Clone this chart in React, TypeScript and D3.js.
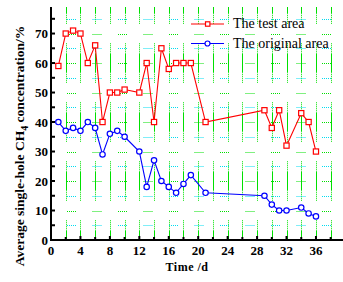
import React, { useRef, useEffect } from 'react';
import * as d3 from 'd3';

// Time (d) and average single-hole CH4 concentration (%)
const testDays = [1, 2, 3, 4, 5, 6, 7, 8, 9, 10, 12, 13, 14, 15, 16, 17, 18, 19, 21, 29, 30, 31, 32, 34, 35, 36];
const testValues = [59, 70, 71, 70, 60, 66, 40, 50, 50, 51, 50, 60, 40, 65, 58, 60, 60, 60, 40, 44, 38, 44, 32, 43, 40, 30];

const originalDays = [1, 2, 3, 4, 5, 6, 7, 8, 9, 10, 12, 13, 14, 15, 16, 17, 18, 19, 21, 29, 30, 31, 32, 34, 35, 36];
const originalValues = [40, 37, 38, 37, 40, 38, 29, 36, 37, 35, 30, 18, 27, 20, 18, 16, 19, 22, 16, 15, 12, 10, 10, 11, 9, 8];

const xMajorTicks = [0, 4, 8, 12, 16, 20, 24, 28, 32, 36, 40];
const xMinorTicks = [2, 6, 10, 14, 18, 22, 26, 30, 34, 38];
const yMajorTicks = [0, 10, 20, 30, 40, 50, 60, 70];
const yMinorTicks = [5, 15, 25, 35, 45, 55, 65, 75];

const seriesNames = ['The test area', 'The original area'];

export default function App() {
  const svgRef = useRef<SVGSVGElement>(null);

  useEffect(() => {
    if (!svgRef.current) return;
    const svg = d3.select(svgRef.current);
    svg.selectAll('*').remove();

    const width = 343;
    const height = 282;
    const left = 51;
    const bottom = 240;

    const x = d3.scaleLinear().domain([0, 40]).range([left, left + 294.4]);
    const y = d3.scaleLinear().domain([0, 79]).range([bottom, 7]);

    svg.attr('width', width).attr('height', height);

    const serif = '"Liberation Serif", "Times New Roman", serif';

    // Grid: dotted fragments like the original rendering
    const grid = svg.append('g');
    const yStep = y(0) - y(10);
    const vDash = [1, 1, 1, 1, 1, 1, 1, 1, 1, 1, yStep - 10];
    const vStart = yStep / 2 - 5;
    grid.selectAll('.vgrid')
      .data(xMinorTicks.concat(xMajorTicks.filter(d => d > 0)))
      .join('line')
      .attr('x1', d => Math.round(x(d)) + 0.5)
      .attr('x2', d => Math.round(x(d)) + 0.5)
      .attr('y1', y(0))
      .attr('y2', y(79))
      .attr('stroke', '#00e000')
      .attr('stroke-width', 1)
      .attr('stroke-dasharray', vDash.join(' '))
      .attr('stroke-dashoffset', 10 + (yStep - 10 - vStart));

    const hDash = [1, 1, 1, 1, 1, 1, 1, 1, 1, 16.5];
    const hOffset = 9 + (16.5 - 16);
    grid.selectAll('.hgrid-major')
      .data(yMajorTicks.filter(d => d > 0))
      .join('line')
      .attr('x1', x(0))
      .attr('x2', width)
      .attr('y1', d => Math.round(y(d)) + 0.5)
      .attr('y2', d => Math.round(y(d)) + 0.5)
      .attr('stroke', '#00e000')
      .attr('stroke-dasharray', hDash.join(' '))
      .attr('stroke-dashoffset', hOffset);

    grid.selectAll('.hgrid-minor')
      .data(yMinorTicks)
      .join('line')
      .attr('x1', x(0))
      .attr('x2', width)
      .attr('y1', d => Math.round(y(d)) + 0.5)
      .attr('y2', d => Math.round(y(d)) + 0.5)
      .attr('stroke', '#00dcf0')
      .attr('stroke-dasharray', hDash.join(' '))
      .attr('stroke-dashoffset', hOffset);

    // Axes
    const axes = svg.append('g');
    axes.append('line')
      .attr('x1', x(0)).attr('x2', x(0))
      .attr('y1', y(0) + 1).attr('y2', y(79))
      .attr('stroke', '#000').attr('stroke-width', 2);
    axes.append('line')
      .attr('x1', x(0) - 1).attr('x2', width)
      .attr('y1', y(0)).attr('y2', y(0))
      .attr('stroke', '#000').attr('stroke-width', 2);

    axes.selectAll('.ytick')
      .data(yMajorTicks.concat(yMinorTicks))
      .join('line')
      .attr('x1', x(0))
      .attr('x2', x(0) + 4)
      .attr('y1', d => y(d))
      .attr('y2', d => y(d))
      .attr('stroke', '#000')
      .attr('stroke-width', 2);

    axes.selectAll('.xtick-major')
      .data(xMajorTicks)
      .join('line')
      .attr('x1', d => x(d))
      .attr('x2', d => x(d))
      .attr('y1', y(0))
      .attr('y2', y(0) - 4)
      .attr('stroke', '#000')
      .attr('stroke-width', 2);

    axes.selectAll('.xtick-minor')
      .data(xMinorTicks)
      .join('line')
      .attr('x1', d => x(d))
      .attr('x2', d => x(d))
      .attr('y1', y(0))
      .attr('y2', y(0) - 3)
      .attr('stroke', '#000')
      .attr('stroke-width', 2);

    axes.selectAll('.ylabel')
      .data(yMajorTicks)
      .join('text')
      .attr('x', x(0) - 3)
      .attr('y', d => y(d))
      .attr('dy', '0.35em')
      .attr('text-anchor', 'end')
      .style('font-family', serif)
      .style('font-weight', 'bold')
      .style('font-size', '13px')
      .text(d => String(d));

    axes.selectAll('.xlabel')
      .data(xMajorTicks.filter(d => d <= 36))
      .join('text')
      .attr('x', d => x(d))
      .attr('y', y(0) + 15)
      .attr('text-anchor', 'middle')
      .style('font-family', serif)
      .style('font-weight', 'bold')
      .style('font-size', '13px')
      .text(d => String(d));

    svg.append('text')
      .attr('x', 187)
      .attr('y', 271)
      .attr('text-anchor', 'middle')
      .style('font-family', serif)
      .style('font-weight', 'bold')
      .style('font-size', '12px')
      .style('letter-spacing', '0.5px')
      .text('Time /d');

    const yTitle = svg.append('text')
      .attr('transform', 'translate(24,146) rotate(-90)')
      .attr('text-anchor', 'middle')
      .style('font-family', serif)
      .style('font-weight', 'bold')
      .style('font-size', '13.5px');
    yTitle.append('tspan').text('Average single-hole CH');
    yTitle.append('tspan').attr('dy', 4).style('font-size', '10px').text('4');
    yTitle.append('tspan').attr('dy', -4).text(' concentration/%');

    // Series
    const testData = testDays.map((d, i) => [d, testValues[i]] as [number, number]);
    const originalData = originalDays.map((d, i) => [d, originalValues[i]] as [number, number]);

    const line = d3.line<[number, number]>()
      .x(d => x(d[0]))
      .y(d => y(d[1]));

    svg.append('path')
      .datum(testData)
      .attr('fill', 'none')
      .attr('stroke', '#ff0000')
      .attr('stroke-width', 1.1)
      .attr('d', line);

    svg.append('path')
      .datum(originalData)
      .attr('fill', 'none')
      .attr('stroke', '#0000ff')
      .attr('stroke-width', 1.1)
      .attr('d', line);

    svg.selectAll('.test-mark')
      .data(testData)
      .join('rect')
      .attr('x', d => x(d[0]) - 2.6)
      .attr('y', d => y(d[1]) - 2.6)
      .attr('width', 5.2)
      .attr('height', 5.2)
      .attr('fill', '#fff')
      .attr('stroke', '#ff0000')
      .attr('stroke-width', 1.2);

    svg.selectAll('.orig-mark')
      .data(originalData)
      .join('circle')
      .attr('cx', d => x(d[0]))
      .attr('cy', d => y(d[1]))
      .attr('r', 2.7)
      .attr('fill', '#fff')
      .attr('stroke', '#0000ff')
      .attr('stroke-width', 1.2);

    // Legend
    const legend = svg.append('g').attr('transform', 'translate(191,24)');
    const colors = ['#ff0000', '#0000ff'];
    seriesNames.forEach((name, i) => {
      const row = legend.append('g').attr('transform', `translate(0,${i * 19.5})`);
      row.append('line')
        .attr('x1', 0).attr('x2', 33).attr('y1', 0).attr('y2', 0)
        .attr('stroke', colors[i]).attr('stroke-width', 1.2);
      if (i === 0) {
        row.append('rect')
          .attr('x', 14.5).attr('y', -2.2).attr('width', 4.4).attr('height', 4.4)
          .attr('fill', '#fff').attr('stroke', colors[i]).attr('stroke-width', 1.2);
      } else {
        row.append('circle')
          .attr('cx', 16.5).attr('cy', 0).attr('r', 2.5)
          .attr('fill', '#fff').attr('stroke', colors[i]).attr('stroke-width', 1.2);
      }
      row.append('text')
        .attr('x', 42).attr('y', 0).attr('dy', '0.32em')
        .style('font-family', serif)
        .style('font-size', '14px')
        .text(name);
    });
  }, []);

  return (
    <svg ref={svgRef} style={{ position: 'absolute', left: 0, top: 0, background: '#fff' }}></svg>
  );
}
